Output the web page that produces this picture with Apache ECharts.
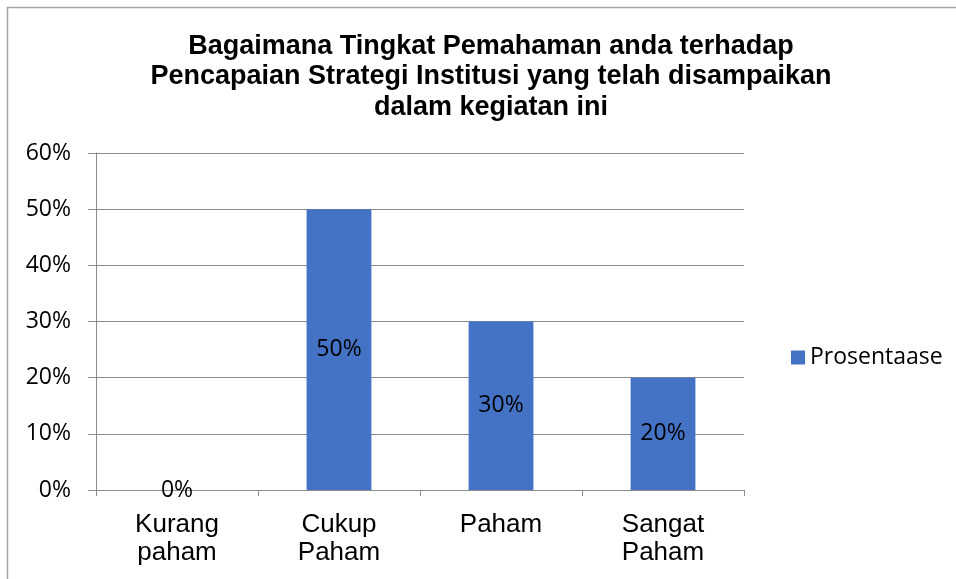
<!DOCTYPE html>
<html><head><meta charset="utf-8">
<script src="https://cdn.jsdelivr.net/npm/echarts@6/dist/echarts.min.js"></script>
<style>html,body{margin:0;padding:0;background:#fff}#c{width:956px;height:579px}</style>
</head><body><div id="c"></div>
<script>
const titleText = "Bagaimana Tingkat Pemahaman anda terhadap\nPencapaian Strategi Institusi yang telah disampaikan\ndalam kegiatan ini";
const categories = ["Kurang\npaham", "Cukup\nPaham", "Paham", "Sangat\nPaham"];
const seriesName = "Prosentaase";
const values = [0, 50, 30, 20];
const yTicks = [0, 10, 20, 30, 40, 50, 60];

const ARIAL = "'Liberation Sans', Arial, sans-serif";
const CAL = "'Open Sans', sans-serif";
const chart = echarts.init(document.getElementById('c'), null, {renderer: 'canvas'});
chart.setOption({
  backgroundColor: '#fff',
  animation: false,
  graphic: [{
    type: 'rect', shape: {x: 7.5, y: 7.5, width: 960, height: 600},
    style: {fill: 'none', stroke: '#a6a6a6', lineWidth: 1.5}
  }],
  title: {
    text: titleText, left: 486, top: 26, textAlign: 'center',
    textStyle: {fontFamily: ARIAL, fontWeight: 'bold', fontSize: 27, lineHeight: 30.5, color: '#000'}
  },
  legend: {
    data: [seriesName], left: 786, top: 341, itemWidth: 14, itemHeight: 14, itemGap: 6,
    icon: 'rect',
    textStyle: {fontFamily: CAL, fontSize: 23, color: '#000', padding: [0,0,0,0]}
  },
  grid: {left: 96, right: 212, top: 153, bottom: 89, containLabel: false},
  xAxis: {
    type: 'category', data: categories,
    axisLine: {show: true, lineStyle: {color: '#8c8c8c', width: 1}},
    axisTick: {show: true, length: 6, lineStyle: {color: '#8c8c8c'}},
    axisLabel: {fontFamily: ARIAL, fontSize: 26, color: '#000', lineHeight: 28, margin: 21}
  },
  yAxis: {
    type: 'value', min: 0, max: 60, interval: 10,
    axisLine: {show: true, lineStyle: {color: '#8c8c8c', width: 1}},
    axisTick: {show: true, length: 8, inside: false, lineStyle: {color: '#8c8c8c'}},
    splitLine: {lineStyle: {color: '#8c8c8c', width: 1}},
    axisLabel: {fontFamily: CAL, fontSize: 23, color: '#000', margin: 25,
      formatter: v => yTicks.includes(v) ? v + '%' : ''}
  },
  series: [{
    name: seriesName, type: 'bar', data: values, barWidth: '40%',
    itemStyle: {color: '#4472c4'},
    label: {show: true, position: 'inside', formatter: p => p.value + '%',
      fontFamily: CAL, fontSize: 23, color: '#000'}
  }]
});
</script></body></html>
